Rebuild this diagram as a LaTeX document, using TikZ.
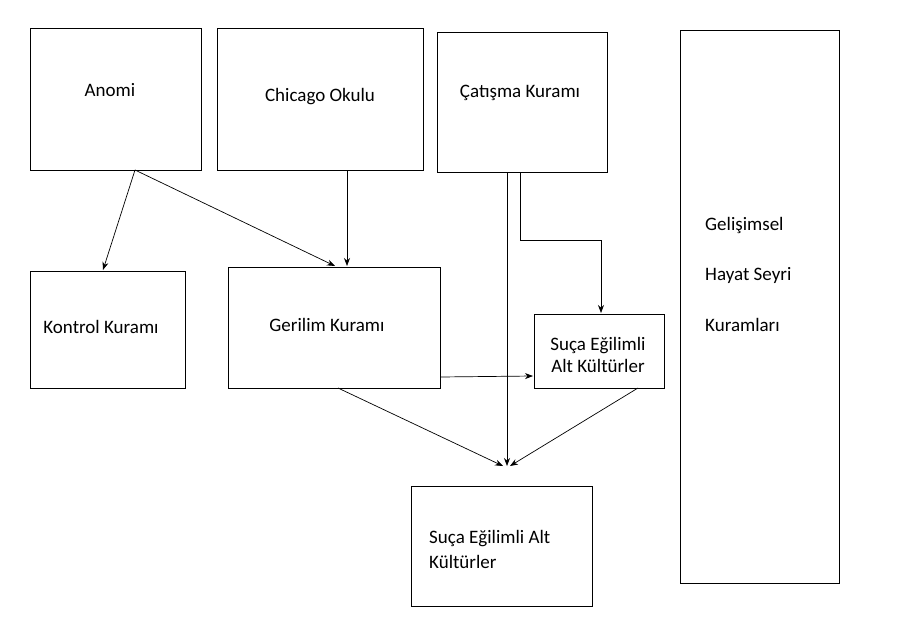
\documentclass[tikz,border=0pt]{standalone}
\usepackage{fontspec}
\setmainfont{Carlito}
\usetikzlibrary{arrows.meta}
\begin{document}
\begin{tikzpicture}[x=1pt,y=-1pt,
  box/.style={draw,line width=1pt},
  lbl/.style={font=\fontsize{19}{22}\selectfont,inner sep=0pt},
  arr/.style={-{Stealth[length=8pt,width=6pt]},line width=0.7pt}]
\useasboundingbox (0,0) rectangle (910,640);
\draw[box] (30,28) rectangle (201,170);
\node[lbl] (anomi) at (110,90) {Anomi};
\draw[box] (217,28) rectangle (423,170);
\node[lbl] (chicago) at (320,97) {Chicago Okulu};
\draw[box] (437,32) rectangle (607,172);
\node[lbl] (catisma) at (520,93) {Çatışma Kuramı};
\draw[box] (680,30) rectangle (839,583);
\node[lbl,anchor=west] (g1) at (705,225) {Gelişimsel};
\node[lbl,anchor=west] (g2) at (705,275) {Hayat Seyri};
\node[lbl,anchor=west] (g3) at (705,325) {Kuramları};
\draw[box] (30,271) rectangle (185,388);
\node[lbl] (kontrol) at (101,327) {Kontrol Kuramı};
\draw[box] (228,267) rectangle (440,388);
\node[lbl] (gerilim) at (327,325) {Gerilim Kuramı};
\draw[box] (534,314) rectangle (664,388);
\node[lbl,align=center] (alt1) at (598,355) {Suça Eğilimli\\Alt Kültürler};
\draw[box] (411,486) rectangle (592,606);
\node[lbl,align=left,anchor=west,font=\fontsize{19}{25}\selectfont] (alt2) at (429,549) {Suça Eğilimli Alt\\Kültürler};
\coordinate (a0) at (135,170);
\coordinate (t) at (507,466);
\draw[arr] (a0) -- (103,270);
\draw[arr] (a0) -- (335,266);
\draw[arr] (347,170) -- (347,266);
\draw[arr] (507,172) -- (t);
\draw[arr] (520,172) -- (520,240) -- (601,240) -- (601,313);
\draw[arr] (440,377) -- (533,376);
\draw[arr] (338,388) -- (503,466);
\draw[arr] (638,388) -- (510,466);
\end{tikzpicture}
\end{document}
